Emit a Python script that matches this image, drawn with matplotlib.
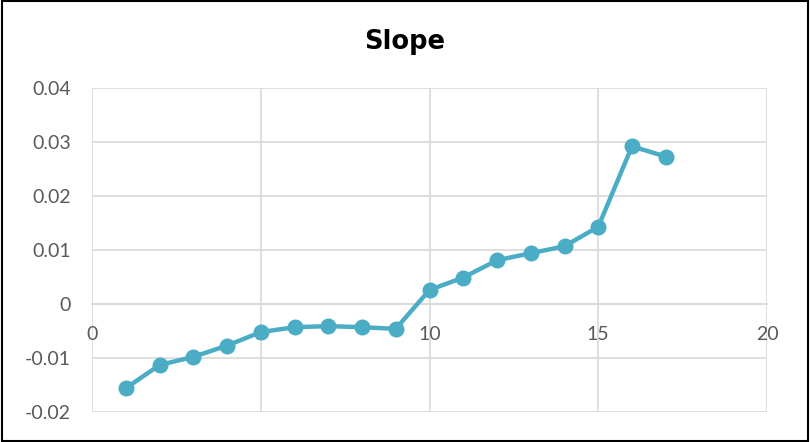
import matplotlib
matplotlib.use("Agg")
import matplotlib.pyplot as plt
from matplotlib.patches import Rectangle

x_vals = [1, 2, 3, 4, 5, 6, 7, 8, 9, 10, 11, 12, 13, 14, 15, 16, 17]
slope = [-0.0156, -0.0113, -0.0098, -0.0077, -0.0052, -0.0043, -0.0041, -0.0043,
         -0.0046, 0.0026, 0.0049, 0.0081, 0.0094, 0.0107, 0.0143, 0.0292, 0.0273]
x_ticks = [0, 5, 10, 15, 20]
y_ticks = [-0.02, -0.01, 0, 0.01, 0.02, 0.03, 0.04]
y_tick_labels = ["-0.02", "-0.01", "0", "0.01", "0.02", "0.03", "0.04"]

plt.rcParams['font.family'] = ['Lato', 'DejaVu Sans']

fig = plt.figure(figsize=(8.1, 4.42), dpi=100)
ax = fig.add_axes([92/810, 1 - 412/442, 675/810, 324/442])

line_color = "#4BACC6"
grid_color = "#D9D9D9"
text_color = "#595959"

ax.plot(x_vals, slope, color=line_color, lw=3.2, marker='o', ms=10.5,
        markerfacecolor=line_color, markeredgecolor=line_color, zorder=3)

ax.set_xlim(0, 20)
ax.set_ylim(-0.02, 0.04)
ax.set_xticks(x_ticks)
ax.set_yticks(y_ticks)
ax.set_yticklabels(y_tick_labels)
ax.grid(True, color=grid_color, lw=1.2)
ax.set_axisbelow(True)

for s in ['top', 'right', 'left']:
    ax.spines[s].set_visible(False)
ax.spines['bottom'].set_position(('data', 0))
ax.spines['bottom'].set_color(grid_color)
ax.spines['bottom'].set_linewidth(1.2)

ax.tick_params(axis='both', length=0, labelsize=14, colors=text_color)
ax.tick_params(axis='y', pad=15)
ax.tick_params(axis='x', pad=16)

fig.text(0.5, 1 - 42/442, "Slope", ha='center', va='center',
         fontsize=18.5, fontweight='bold', color='black', family='DejaVu Sans')

fig.patches.append(Rectangle((0.002, 0.003), 0.996, 0.994, transform=fig.transFigure,
                             fill=False, edgecolor='black', lw=1.5))

fig.savefig("out.png", dpi=100)
